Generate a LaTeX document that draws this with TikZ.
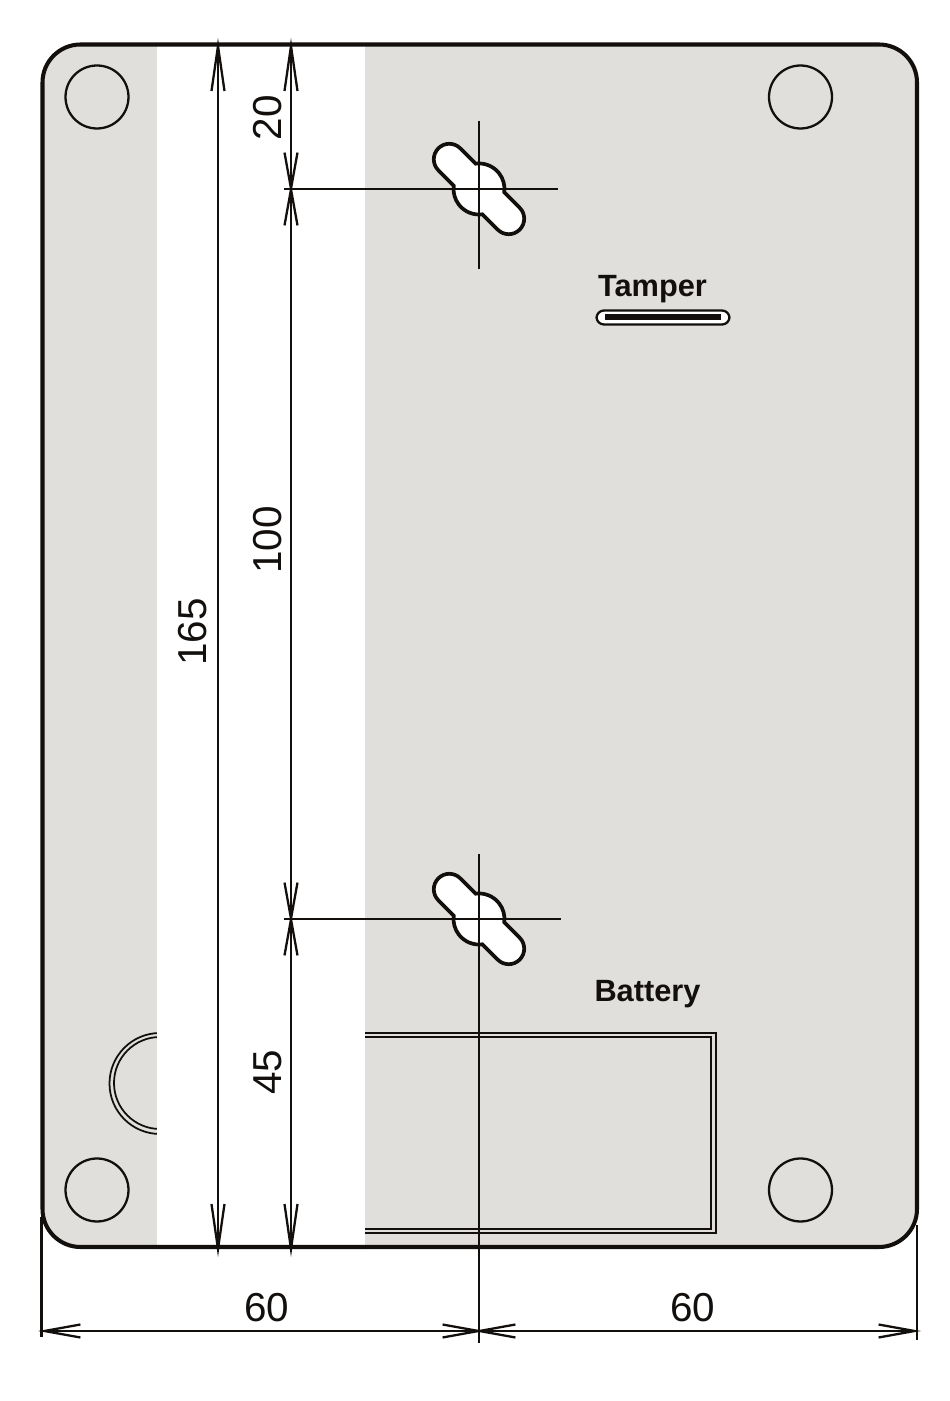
\documentclass[tikz,border=0pt]{standalone}
\usepackage{fontspec}
\setmainfont{Liberation Sans}
\usetikzlibrary{arrows.meta}
\definecolor{plate}{HTML}{E0DFDB}
\definecolor{ink}{HTML}{120F0D}
\tikzset{longtip/.tip={Straight Barb[length=0.9cm,width=0.26cm,line join=miter]},
  shorttip/.tip={Straight Barb[length=0.72cm,width=0.26cm,line join=miter]}}
\newcommand{\slotpath}{(-20.3,15.5) arc[start angle=142.6,end angle=37.4,radius=25.5] -- (42,15.5)
  arc[start angle=90,end angle=-90,radius=15.5] -- (20.3,-15.5)
  arc[start angle=-37.4,end angle=-142.6,radius=25.5] -- (-42,-15.5)
  arc[start angle=270,end angle=90,radius=15.5] -- cycle}

\begin{document}
\begin{tikzpicture}[x=0.02cm,y=0.02cm,color=ink,line width=1.3pt]
  \tikzstyle{foot}=[circle,draw,minimum size=1.26cm,inner sep=0pt]
  \tikzstyle{slot}=[fill=white,draw,line width=2.1pt]
  \tikzstyle{measure}=[font=\fontsize{23}{23}\selectfont]
  \tikzstyle{sideways}=[measure,rotate=90]
  \tikzstyle{caption}=[font=\bfseries\fontsize{17.5}{17.5}\selectfont,anchor=base]
  \tikzstyle{recess}=[draw,line width=1pt]
  \tikzstyle{reach}=[shorten >=-0.12cm,shorten <=-0.12cm]

  \useasboundingbox (0,0) rectangle (950,1401);
  \fill[plate,rounded corners=0.76cm] (42.5,154) rectangle (917,1356.5);

  \path[recess] (160,368) -- (716,368) -- (716,168) -- (250,168) -- (250,267) -- (160,267)
    arc[start angle=270,end angle=90,radius=50.5] -- cycle;
  \path[recess] (160,364) -- (711,364) -- (711,172) -- (254,172) -- (254,272) -- (160,272)
    arc[start angle=270,end angle=90,radius=46] -- cycle;

  \fill[white] (157,150) rectangle (365,1360);
  \draw[line width=2.3pt,rounded corners=0.76cm] (42.5,154) rectangle (917,1356.5);

  \node[foot] (footA) at (97,1304) {};
  \node[foot] (footB) at (800.5,1304) {};
  \node[foot] (footC) at (97,211) {};
  \node[foot] (footD) at (800.5,211) {};

  \draw[slot,shift={(479,1212)},rotate=-45] \slotpath;
  \draw[slot,shift={(479,482)},rotate=-45] \slotpath;

  \node[caption] (tamper) at (652.5,1104) {Tamper};
  \node[draw,fill=white,rounded corners=0.15cm,minimum width=2.66cm,minimum height=0.28cm,inner sep=0pt] (switch) at (663,1083.5) {};
  \node[fill,minimum width=2.34cm,minimum height=0.12cm,inner sep=0pt] (contact) at (663,1084) {};
  \node[caption] (battery) at (647.5,399) {Battery};

  \coordinate (topA) at (218,1357);
  \coordinate (lowA) at (218,150);
  \coordinate (topB) at (291,1357);
  \coordinate (upperB) at (291,1212);
  \coordinate (lowerB) at (291,482);
  \coordinate (lowB) at (291,150);
  \coordinate (upperL) at (284,1212);
  \coordinate (upperR) at (558,1212);
  \coordinate (lowerL) at (284,482);
  \coordinate (lowerR) at (561,482);
  \coordinate (upperT) at (479,1280);
  \coordinate (upperD) at (479,1132);
  \coordinate (lowerT) at (479,547);
  \coordinate (lowerD) at (479,58);
  \coordinate (leftT) at (41.5,184);
  \coordinate (leftD) at (41.5,64);
  \coordinate (rightT) at (917,176);
  \coordinate (rightD) at (917,61);
  \coordinate (baseL) at (44,70);
  \coordinate (baseM) at (479,70);
  \coordinate (baseR) at (915,70);

  \draw (upperL) -- (upperR);
  \draw (lowerL) -- (lowerR);
  \draw (upperT) -- (upperD);
  \draw (lowerT) -- (lowerD);
  \draw (leftT) -- (leftD);
  \draw (rightT) -- (rightD);

  \draw[reach,longtip-longtip] (topA) -- (lowA);
  \draw[reach,longtip-shorttip] (topB) -- (upperB);
  \draw[reach,shorttip-shorttip] (upperB) -- (lowerB);
  \draw[reach,shorttip-longtip] (lowerB) -- (lowB);
  \draw[reach,shorttip-shorttip] (baseL) -- (baseM);
  \draw[reach,shorttip-shorttip] (baseM) -- (baseR);

  \node[sideways] (total) at (193,769) {165};
  \node[sideways] (first) at (268,1283) {20};
  \node[sideways] (span) at (268,861) {100};
  \node[sideways] (last) at (268,329) {45};
  \node[measure] (half) at (267,93.5) {60};
  \node[measure] (other) at (693,93.5) {60};
\end{tikzpicture}
\end{document}
